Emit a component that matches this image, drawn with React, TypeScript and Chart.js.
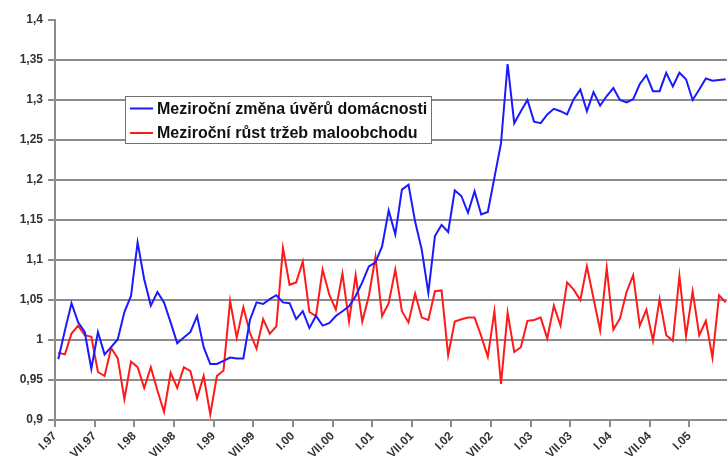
import React, { useEffect, useRef } from 'react';
import { Chart, registerables } from 'chart.js';

Chart.register(...registerables);

const tickLabels = [
  'I.97', 'VII.97', 'I.98', 'VII.98', 'I.99', 'VII.99', 'I.00', 'VII.00',
  'I.01', 'VII.01', 'I.02', 'VII.02', 'I.03', 'VII.03', 'I.04', 'VII.04', 'I.05',
];

const seriesNames = [
  'Meziroční změna úvěrů domácnosti',
  'Meziroční růst tržeb maloobchodu',
];

// monthly values, I.97 .. VI.05
const creditGrowth = [
  0.976, 1.012, 1.046, 1.022, 1.01, 0.964, 1.01, 0.982, 0.991, 1.001,
  1.035, 1.055, 1.122, 1.076, 1.043, 1.06, 1.047, 1.022, 0.996, 1.003,
  1.01, 1.03, 0.991, 0.97, 0.97, 0.974, 0.978, 0.977, 0.977, 1.025,
  1.047, 1.045, 1.051, 1.056, 1.047, 1.046, 1.026, 1.036, 1.015, 1.03,
  1.018, 1.021, 1.03, 1.036, 1.042, 1.055, 1.072, 1.092, 1.097, 1.117,
  1.162, 1.132, 1.188, 1.194, 1.148, 1.113, 1.059, 1.13, 1.144, 1.135,
  1.187, 1.18, 1.159, 1.186, 1.157, 1.16, 1.203, 1.246, 1.345, 1.271,
  1.286, 1.3, 1.273, 1.271, 1.282, 1.289, 1.286, 1.282, 1.301, 1.313,
  1.286, 1.31, 1.293, 1.305, 1.315, 1.3, 1.297, 1.301, 1.32, 1.331,
  1.311, 1.311, 1.334, 1.317, 1.334, 1.326, 1.3, 1.313, 1.327, 1.324,
  1.325, 1.326,
];

const retailGrowth = [
  0.984, 0.982, 1.008, 1.018, 1.006, 1.004, 0.96, 0.955, 0.99, 0.977,
  0.926, 0.973, 0.966, 0.94, 0.966, 0.937, 0.91, 0.959, 0.94, 0.966,
  0.961, 0.927, 0.955, 0.907, 0.955, 0.962, 1.049, 1.003, 1.041, 1.009,
  0.989, 1.026, 1.008, 1.017, 1.115, 1.069, 1.072, 1.098, 1.035, 1.03,
  1.088, 1.057, 1.038, 1.083, 1.023, 1.081, 1.023, 1.055, 1.104, 1.03,
  1.046, 1.088, 1.036, 1.022, 1.058, 1.028, 1.025, 1.061, 1.062, 0.981,
  1.023, 1.026, 1.028, 1.028, 1.005, 0.979, 1.036, 0.945, 1.034, 0.985,
  0.991, 1.024, 1.025, 1.028, 1.002, 1.043, 1.018, 1.072, 1.063, 1.05,
  1.092, 1.052, 1.012, 1.09, 1.013, 1.027, 1.06, 1.081, 1.018, 1.038,
  0.999, 1.051, 1.006, 0.999, 1.08, 1.005, 1.061, 1.006, 1.024, 0.978,
  1.056, 1.047,
];

const FONT = '"Liberation Sans", Arial, sans-serif';
const GRID = '#8c8c8c';

const boxLegend = {
  id: 'boxLegend',
  afterDraw(chart: any) {
    const ctx = chart.ctx;
    ctx.save();
    const x = 125.5, y = 96.5, w = 306, h = 47;
    ctx.fillStyle = '#ffffff';
    ctx.fillRect(x, y, w, h);
    ctx.strokeStyle = '#707070';
    ctx.lineWidth = 1;
    ctx.strokeRect(x, y, w, h);
    chart.data.datasets.forEach((ds: any, i: number) => {
      const cy = 108.5 + i * 24.5;
      ctx.strokeStyle = ds.borderColor;
      ctx.lineWidth = 2;
      ctx.beginPath();
      ctx.moveTo(130, cy);
      ctx.lineTo(153, cy);
      ctx.stroke();
      ctx.fillStyle = '#111';
      ctx.font = `bold 16px ${FONT}`;
      ctx.textBaseline = 'middle';
      ctx.textAlign = 'left';
      ctx.fillText(ds.label, 157, cy + 1);
    });
    ctx.restore();
  },
};

export default function App() {
  const ref = useRef<HTMLCanvasElement | null>(null);

  useEffect(() => {
    if (!ref.current) return;
    const toPoints = (arr: number[]) => arr.map((v, i) => ({ x: i + 0.5, y: v }));
    const chart = new Chart(ref.current, {
      type: 'line',
      data: {
        datasets: [
          {
            label: seriesNames[0],
            data: toPoints(creditGrowth),
            borderColor: '#1a1aff',
            borderWidth: 2,
            pointRadius: 0,
            tension: 0,
          },
          {
            label: seriesNames[1],
            data: toPoints(retailGrowth),
            borderColor: '#ff1a1a',
            borderWidth: 2,
            pointRadius: 0,
            tension: 0,
          },
        ],
      },
      options: {
        animation: false,
        responsive: false,
        devicePixelRatio: 1,
        layout: { padding: { top: 20, right: 0, bottom: 0, left: 0 } },
        plugins: { legend: { display: false }, tooltip: { enabled: false } },
        scales: {
          x: {
            type: 'linear',
            min: 0,
            max: 101.7,
            afterBuildTicks: (scale: any) => {
              const t = [];
              for (let i = 0; i < tickLabels.length; i++) t.push({ value: i * 6 });
              scale.ticks = t;
            },
            afterFit: (scale: any) => {
              scale.height = 55;
            },
            grid: {
              drawOnChartArea: false,
              drawTicks: true,
              tickLength: 7,
              color: GRID,
              lineWidth: 2,
            },
            border: { display: true, color: GRID, width: 2 },
            ticks: {
              autoSkip: false,
              minRotation: 45,
              maxRotation: 45,
              padding: 2,
              color: '#333',
              font: { family: FONT, size: 12, weight: 'bold' },
              callback: (v: any) => tickLabels[Math.round(Number(v) / 6)] ?? '',
            },
          },
          y: {
            min: 0.9,
            max: 1.4,
            afterFit: (scale: any) => {
              scale.width = 55;
            },
            grid: {
              color: (c: any) => (c.tick && Math.abs(c.tick.value - 1.4) < 1e-6 ? 'rgba(0,0,0,0)' : GRID),
              tickColor: GRID,
              lineWidth: 2,
              tickLength: 7,
            },
            border: { display: true, color: GRID, width: 2 },
            ticks: {
              stepSize: 0.05,
              padding: 5,
              color: '#333',
              font: { family: FONT, size: 12, weight: 'bold' },
              callback: (v: any) => String(Math.round(Number(v) * 100) / 100).replace('.', ','),
            },
          },
        },
      },
      plugins: [boxLegend],
    });
    return () => chart.destroy();
  }, []);

  return (
    <div
      style={{
        position: 'fixed',
        left: 0,
        top: 0,
        width: 727,
        height: 475,
        overflow: 'hidden',
        background: '#fff',
      }}
    >
      <canvas ref={ref} width={727} height={475} style={{ display: 'block' }} />
    </div>
  );
}
